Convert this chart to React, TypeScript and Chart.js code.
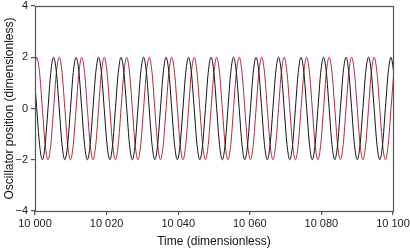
import React, { useEffect, useRef } from "react";
import { Chart, registerables } from "chart.js";

Chart.register(...registerables);

// Sample times (dimensionless), one eighth of a period apart
const timeValues: number[] = [
  9999.70, 10000.49, 10001.27, 10002.06, 10002.84, 10003.63, 10004.41, 10005.20,
  10005.98, 10006.77, 10007.55, 10008.34, 10009.12, 10009.91, 10010.69, 10011.48,
  10012.27, 10013.05, 10013.84, 10014.62, 10015.41, 10016.19, 10016.98, 10017.76,
  10018.55, 10019.33, 10020.12, 10020.90, 10021.69, 10022.47, 10023.26, 10024.04,
  10024.83, 10025.62, 10026.40, 10027.19, 10027.97, 10028.76, 10029.54, 10030.33,
  10031.12, 10031.90, 10032.69, 10033.47, 10034.26, 10035.04, 10035.83, 10036.61,
  10037.40, 10038.19, 10038.97, 10039.76, 10040.54, 10041.33, 10042.11, 10042.90,
  10043.68, 10044.47, 10045.25, 10046.04, 10046.82, 10047.61, 10048.39, 10049.18,
  10049.97, 10050.75, 10051.54, 10052.32, 10053.11, 10053.89, 10054.68, 10055.46,
  10056.25, 10057.04, 10057.82, 10058.61, 10059.39, 10060.18, 10060.96, 10061.75,
  10062.53, 10063.32, 10064.10, 10064.89, 10065.67, 10066.46, 10067.24, 10068.03,
  10068.82, 10069.60, 10070.39, 10071.17, 10071.96, 10072.74, 10073.53, 10074.31,
  10075.10, 10075.89, 10076.67, 10077.46, 10078.24, 10079.03, 10079.81, 10080.60,
  10081.38, 10082.17, 10082.95, 10083.74, 10084.52, 10085.31, 10086.09, 10086.88,
  10087.66, 10088.45, 10089.23, 10090.02, 10090.80, 10091.59, 10092.37, 10093.16,
  10093.95, 10094.73, 10095.52, 10096.30, 10097.09, 10097.87, 10098.66, 10099.44,
  10100.23,
];

// Oscillator 1 (black)
const blackPosition: number[] = [
  1.41, 0, -1.41, -2, -1.41, 0, 1.41, 2,
  1.41, 0, -1.41, -2, -1.41, 0, 1.41, 2,
  1.41, 0, -1.41, -2, -1.41, 0, 1.41, 2,
  1.41, 0, -1.41, -2, -1.41, 0, 1.41, 2,
  1.41, 0, -1.41, -2, -1.41, 0, 1.41, 2,
  1.41, 0, -1.41, -2, -1.41, 0, 1.41, 2,
  1.41, 0, -1.41, -2, -1.41, 0, 1.41, 2,
  1.41, 0, -1.41, -2, -1.41, 0, 1.41, 2,
  1.41, 0, -1.41, -2, -1.41, 0, 1.41, 2,
  1.41, 0, -1.41, -2, -1.41, 0, 1.41, 2,
  1.41, 0, -1.41, -2, -1.41, 0, 1.41, 2,
  1.41, 0, -1.41, -2, -1.41, 0, 1.41, 2,
  1.41, 0, -1.41, -2, -1.41, 0, 1.41, 2,
  1.41, 0, -1.41, -2, -1.41, 0, 1.41, 2,
  1.41, 0, -1.41, -2, -1.41, 0, 1.41, 2,
  1.41, 0, -1.41, -2, -1.41, 0, 1.41, 2,
  1.41,
];

// Oscillator 2 (red)
const redPosition: number[] = [
  1.41, 2, 1.41, 0, -1.41, -2, -1.41, 0,
  1.41, 2, 1.41, 0, -1.41, -2, -1.41, 0,
  1.41, 2, 1.41, 0, -1.41, -2, -1.41, 0,
  1.41, 2, 1.41, 0, -1.41, -2, -1.41, 0,
  1.41, 2, 1.41, 0, -1.41, -2, -1.41, 0,
  1.41, 2, 1.41, 0, -1.41, -2, -1.41, 0,
  1.41, 2, 1.41, 0, -1.41, -2, -1.41, 0,
  1.41, 2, 1.41, 0, -1.41, -2, -1.41, 0,
  1.41, 2, 1.41, 0, -1.41, -2, -1.41, 0,
  1.41, 2, 1.41, 0, -1.41, -2, -1.41, 0,
  1.41, 2, 1.41, 0, -1.41, -2, -1.41, 0,
  1.41, 2, 1.41, 0, -1.41, -2, -1.41, 0,
  1.41, 2, 1.41, 0, -1.41, -2, -1.41, 0,
  1.41, 2, 1.41, 0, -1.41, -2, -1.41, 0,
  1.41, 2, 1.41, 0, -1.41, -2, -1.41, 0,
  1.41, 2, 1.41, 0, -1.41, -2, -1.41, 0,
  1.41,
];

const xTicks: number[] = [10000, 10020, 10040, 10060, 10080, 10100];
const yTicks: number[] = [-4, -2, 0, 2, 4];

const FONT = 'Arial, "Liberation Sans", Helvetica, sans-serif';
const AXIS_COLOR = "#555555";

const framePlugin = {
  id: "frame",
  afterDatasetsDraw(chart: any) {
    const { ctx, chartArea } = chart;
    ctx.save();
    ctx.strokeStyle = AXIS_COLOR;
    ctx.lineWidth = 1.2;
    ctx.strokeRect(
      Math.round(chartArea.left) + 0.5,
      Math.round(chartArea.top) + 0.5,
      Math.round(chartArea.right) - Math.round(chartArea.left),
      Math.round(chartArea.bottom) - Math.round(chartArea.top)
    );
    ctx.restore();
  },
};

function fmtThousands(v: number): string {
  return String(v).replace(/\B(?=(\d{3})+(?!\d))/g, " ");
}

export default function App() {
  const ref = useRef<HTMLCanvasElement | null>(null);

  useEffect(() => {
    document.body.style.margin = "0";
    const canvas = ref.current;
    if (!canvas) return;
    const toPoints = (ys: number[]) => timeValues.map((t, i) => ({ x: t, y: ys[i] }));
    const chart = new Chart(canvas, {
      type: "line",
      data: {
        datasets: [
          {
            label: "Oscillator 1",
            data: toPoints(blackPosition),
            borderColor: "#111111",
            borderWidth: 1,
            pointRadius: 0,
            cubicInterpolationMode: "monotone",
            fill: false,
          },
          {
            label: "Oscillator 2",
            data: toPoints(redPosition),
            borderColor: "#b02a36",
            borderWidth: 1,
            pointRadius: 0,
            cubicInterpolationMode: "monotone",
            fill: false,
          },
        ],
      },
      options: {
        animation: false,
        responsive: false,
        maintainAspectRatio: false,
        devicePixelRatio: 1,
        layout: { padding: { top: 6, right: 17, left: 0, bottom: 0 } },
        plugins: {
          legend: { display: false },
          tooltip: { enabled: false },
        },
        scales: {
          x: {
            type: "linear",
            min: 10000,
            max: 10100,
            afterFit: (s: any) => {
              s.height = 39;
              s.paddingLeft = 0;
              s.paddingRight = 0;
            },
            afterBuildTicks: (s: any) => {
              s.ticks = xTicks.map((v) => ({ value: v }));
            },
            ticks: {
              color: "#222222",
              font: { family: FONT, size: 11 },
              padding: 2,
              maxRotation: 0,
              callback: (v: any) => fmtThousands(Number(v)),
            },
            grid: {
              drawOnChartArea: false,
              drawTicks: true,
              tickLength: 4,
              color: AXIS_COLOR,
              lineWidth: 1.2,
            },
            border: { display: false },
            title: {
              display: true,
              text: "Time (dimensionless)",
              color: "#111111",
              font: { family: FONT, size: 12 },
              padding: { top: 0, bottom: 1 },
            },
          },
          y: {
            type: "linear",
            min: -4,
            max: 4,
            afterFit: (s: any) => {
              s.width = 35;
              s.paddingTop = 0;
              s.paddingBottom = 0;
            },
            afterBuildTicks: (s: any) => {
              s.ticks = yTicks.map((v) => ({ value: v }));
            },
            ticks: {
              color: "#222222",
              font: { family: FONT, size: 11 },
              padding: 3,
              callback: (v: any) => (Number(v) < 0 ? "\u2212" + Math.abs(Number(v)) : String(v)),
            },
            grid: {
              drawOnChartArea: false,
              drawTicks: true,
              tickLength: 4,
              color: AXIS_COLOR,
              lineWidth: 1.2,
            },
            border: { display: false },
            title: {
              display: true,
              text: "Oscillator position (dimensionless)",
              color: "#111111",
              font: { family: FONT, size: 12 },
              padding: { top: 2, bottom: 0 },
            },
          },
        },
      },
      plugins: [framePlugin],
    } as any);
    return () => chart.destroy();
  }, []);

  return (
    <div style={{ width: 410, height: 250, position: "relative" }}>
      <canvas ref={ref} width={410} height={250} style={{ display: "block", width: 410, height: 250 }} />
    </div>
  );
}
